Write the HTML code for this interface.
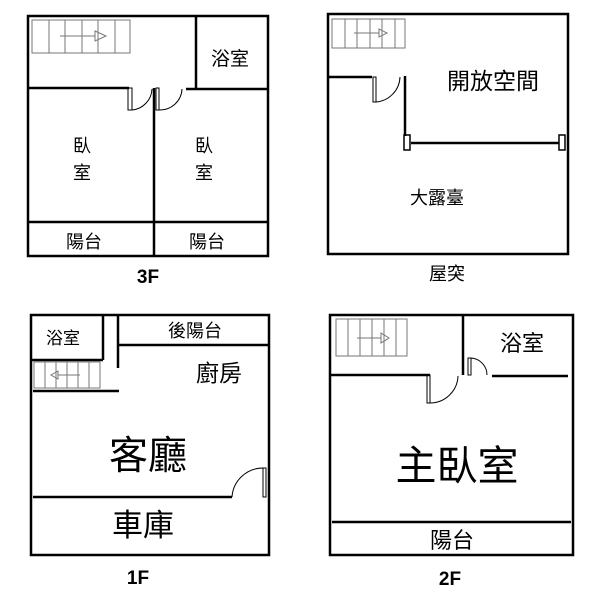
<!DOCTYPE html>
<html><head><meta charset="utf-8"><style>html,body{margin:0;padding:0;background:#fff}svg{display:block}</style></head><body>
<svg width="600" height="600" viewBox="0 0 600 600" xmlns="http://www.w3.org/2000/svg" font-family="Liberation Sans, Noto Sans CJK TC, sans-serif">
<g fill="none" stroke="#000" stroke-width="2.5">
<rect x="28" y="16" width="240" height="240"/>
<line x1="196" y1="16" x2="196" y2="89"/>
<line x1="28" y1="88" x2="129" y2="88"/>
<line x1="186" y1="89" x2="268" y2="89"/>
<line x1="154" y1="88" x2="154" y2="256"/>
<line x1="28" y1="222" x2="268" y2="222"/>
<rect x="328" y="14" width="240" height="240"/>
<line x1="328" y1="77" x2="372" y2="77"/>
<line x1="405" y1="76" x2="405" y2="136"/>
<line x1="411" y1="143" x2="559" y2="143"/>
<rect x="31" y="315" width="238" height="240"/>
<line x1="103" y1="315" x2="103" y2="360"/>
<line x1="31" y1="360" x2="103" y2="360"/>
<line x1="118" y1="315" x2="118" y2="368"/>
<line x1="118" y1="345" x2="268" y2="345"/>
<line x1="33" y1="391" x2="119" y2="391"/>
<line x1="33" y1="497" x2="232" y2="497"/>
<rect x="330" y="315" width="243" height="240"/>
<line x1="463" y1="315" x2="463" y2="375"/>
<line x1="331" y1="375" x2="430" y2="375"/>
<line x1="492" y1="376" x2="568" y2="376"/>
<line x1="332" y1="522" x2="571" y2="522"/>
</g>
<g fill="none" stroke="#000" stroke-width="1">
<rect x="128" y="88" width="4" height="22"/><path d="M132 110 A22 22 0 0 0 152 89"/>
<rect x="156" y="88" width="3" height="22"/><path d="M159 110 A22 22 0 0 0 182 89"/>
<rect x="373" y="77" width="3" height="25"/><path d="M376 102 A26 26 0 0 0 400 77"/>
<rect x="404" y="135" width="6" height="15" stroke-width="1.5"/>
<rect x="559" y="135" width="6" height="15" stroke-width="1.5"/>
<rect x="263" y="468" width="3" height="29"/><path d="M232 497 A31 31 0 0 1 263 468"/>
<rect x="427" y="375" width="3" height="28"/><path d="M430 403 A28 28 0 0 0 458 376"/>
<rect x="468" y="358" width="3" height="17"/><path d="M471 358 A17 17 0 0 1 487 375"/>
</g>
<g fill="none" stroke="#777" stroke-width="1">
<rect x="32" y="20" width="98" height="33"/>
<path d="M49 20V53M65 20V53M82 20V53M98 20V53M115 20V53M60 36H95M95 31L106 36L95 41Z"/>
<rect x="332" y="19" width="73" height="29"/>
<path d="M345 19V48M357 19V48M370 19V48M382 19V48M395 19V48M354 33H379M379 29L387 33L379 37Z"/>
<rect x="34" y="362" width="66" height="26"/>
<path d="M45 362V388M56 362V388M67 362V388M78 362V388M89 362V388M58 375H80M58 371L51 375L58 379Z"/>
<rect x="336" y="319" width="71" height="37"/>
<path d="M348 319V356M360 319V356M372 319V356M384 319V356M396 319V356M357 338H381M381 333L389 338L381 343Z"/>
</g>
<g fill="#000" text-anchor="middle" font-size="18">
<text x="82" y="152">臥</text><text x="82" y="179">室</text>
<text x="204" y="152">臥</text><text x="204" y="179">室</text>
<text x="84" y="248">陽台</text><text x="207" y="248">陽台</text>
<text x="230" y="65" font-size="19">浴室</text>
<text x="148" y="283" font-weight="bold" font-size="19">3F</text>
<text x="493" y="89" font-size="23">開放空間</text>
<text x="437" y="204">大露臺</text>
<text x="447" y="280">屋突</text>
<text x="63" y="344" font-size="17">浴室</text>
<text x="195" y="337">後陽台</text>
<text x="219" y="381" font-size="23">廚房</text>
<text x="148" y="469" font-size="39">客廳</text>
<text x="143" y="536" font-size="31">車庫</text>
<text x="138" y="584" font-weight="bold" font-size="19">1F</text>
<text x="522" y="351" font-size="22">浴室</text>
<text x="457" y="480" font-size="41">主臥室</text>
<text x="452" y="548" font-size="22">陽台</text>
<text x="450" y="585" font-weight="bold" font-size="19">2F</text>
</g>
</svg>
</body></html>
